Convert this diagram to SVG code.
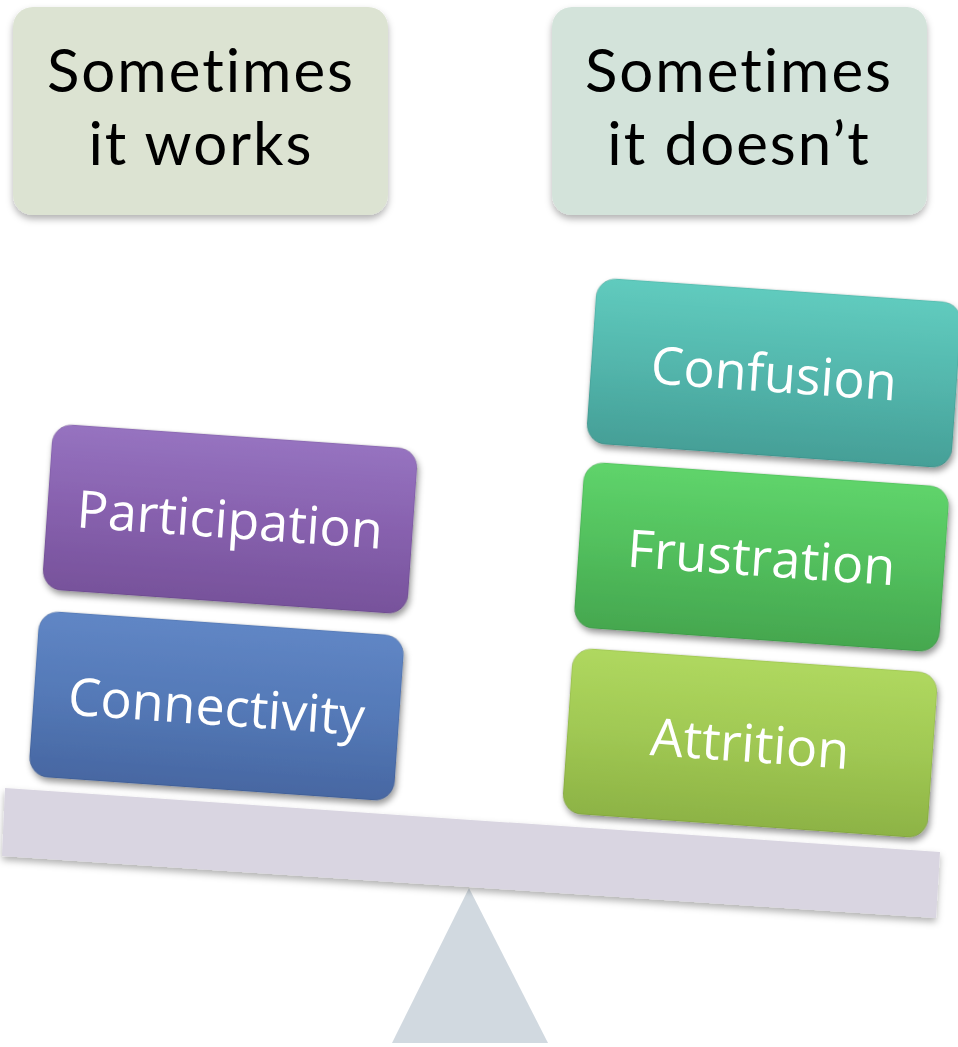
<svg xmlns="http://www.w3.org/2000/svg" width="958" height="1047" viewBox="0 0 958 1047">
<defs>
<filter id="sh" x="-10%" y="-10%" width="125%" height="135%">
<feDropShadow dx="2" dy="4" stdDeviation="3" flood-color="#000" flood-opacity="0.4"/>
</filter>
<filter id="shs" x="-10%" y="-10%" width="125%" height="135%">
<feDropShadow dx="0" dy="4" stdDeviation="3.5" flood-color="#000" flood-opacity="0.3"/>
</filter>
<linearGradient id="gPur" x1="0" y1="0" x2="0" y2="1"><stop offset="0" stop-color="#9673c0"/><stop offset="0.5" stop-color="#8761ae"/><stop offset="1" stop-color="#77529b"/></linearGradient>
<linearGradient id="gBlu" x1="0" y1="0" x2="0" y2="1"><stop offset="0" stop-color="#6086c5"/><stop offset="0.5" stop-color="#5479b7"/><stop offset="1" stop-color="#4767a2"/></linearGradient>
<linearGradient id="gTea" x1="0" y1="0" x2="0" y2="1"><stop offset="0" stop-color="#60cbbe"/><stop offset="0.5" stop-color="#53b6ac"/><stop offset="1" stop-color="#459f97"/></linearGradient>
<linearGradient id="gGrn" x1="0" y1="0" x2="0" y2="1"><stop offset="0" stop-color="#5fd46b"/><stop offset="0.5" stop-color="#52bf5d"/><stop offset="1" stop-color="#45a74f"/></linearGradient>
<linearGradient id="gYel" x1="0" y1="0" x2="0" y2="1"><stop offset="0" stop-color="#afd85f"/><stop offset="0.5" stop-color="#a0c853"/><stop offset="1" stop-color="#8db345"/></linearGradient>
</defs>
<style>
.hd{font-family:Lato,"Open Sans","Liberation Sans",sans-serif;font-size:60px;letter-spacing:2px;fill:#000;text-anchor:middle;font-variant-ligatures:none;font-feature-settings:"liga" 0,"clig" 0}
.lb{font-family:"Open Sans","Liberation Sans",sans-serif;font-size:52px;fill:#fff;text-anchor:middle}
.bx{filter:url(#sh);stroke:#000;stroke-opacity:0.12;stroke-width:1}
</style>
<g id="fulcrum"><polygon points="469,888 392,1043 548,1043" fill="#d1d9e0"/></g>
<g id="beam"><polygon points="5,788 940,852 936,918 2,856" fill="#d9d5e1" filter="url(#shs)"/></g>
<g id="works" filter="url(#shs)">
<rect x="13" y="7" width="375" height="208" rx="20" fill="#dce3d2"/>
<text class="hd" x="201" y="92">Sometimes</text>
<text class="hd" x="201" y="165">it works</text>
</g>
<g id="doesnt" filter="url(#shs)">
<rect x="552" y="7" width="375" height="208" rx="20" fill="#d3e3da"/>
<text class="hd" x="739" y="92">Sometimes</text>
<text class="hd" x="739" y="165">it doesn’t</text>
</g>
<g id="participation" transform="translate(230,519) rotate(4)">
<rect class="bx" x="-183" y="-83" width="366" height="166" rx="20" fill="url(#gPur)"/>
<text class="lb" x="0" y="19">Participation</text>
</g>
<g id="connectivity" transform="translate(216.5,706) rotate(4)">
<rect class="bx" x="-183" y="-83" width="366" height="166" rx="20" fill="url(#gBlu)"/>
<text class="lb" x="0" y="19">Connectivity</text>
</g>
<g id="confusion" transform="translate(774,373) rotate(4)">
<rect class="bx" x="-183" y="-83" width="366" height="166" rx="20" fill="url(#gTea)"/>
<text class="lb" x="0" y="19">Confusion</text>
</g>
<g id="frustration" transform="translate(761.5,557) rotate(4)">
<rect class="bx" x="-183" y="-83" width="366" height="166" rx="20" fill="url(#gGrn)"/>
<text class="lb" x="0" y="19">Frustration</text>
</g>
<g id="attrition" transform="translate(750,743) rotate(4)">
<rect class="bx" x="-183" y="-83" width="366" height="166" rx="20" fill="url(#gYel)"/>
<text class="lb" x="0" y="19">Attrition</text>
</g>
<g id="connectors"/>
</svg>
